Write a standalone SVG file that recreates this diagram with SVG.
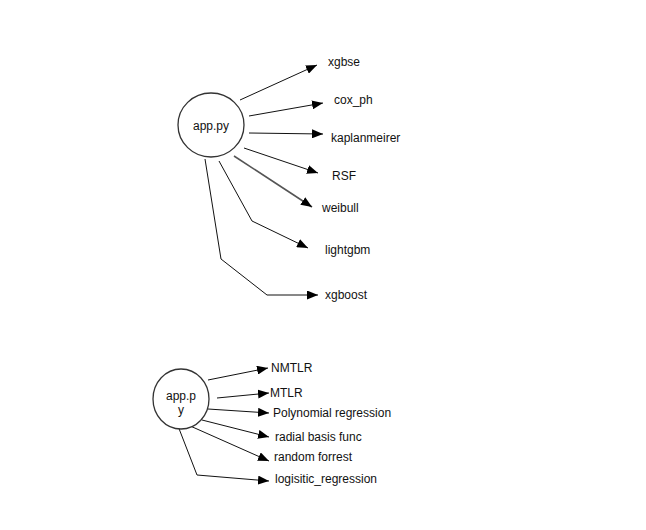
<svg xmlns="http://www.w3.org/2000/svg" width="646" height="530" viewBox="0 0 646 530">
<style>
.n{fill:#fff;stroke:#333;stroke-width:1.3}
.t{font-family:"Liberation Sans",Arial,sans-serif;font-size:12px;fill:#111}
.c{fill:none;stroke:#111;stroke-width:1;marker-end:url(#a)}
</style>
<defs>
<marker id="a" viewBox="0 0 11 9" refX="11" refY="4.5" markerWidth="11" markerHeight="9" markerUnits="userSpaceOnUse" orient="auto">
<path d="M0,0L11,4.5L0,9z" fill="#000"/>
</marker>
</defs>
<rect width="646" height="530" fill="#fff"/>
<g id="connectors">
<path class="c" d="M240,100L317,65"/>
<path class="c" d="M249,116L323,103"/>
<path class="c" d="M249,133L323,134"/>
<path class="c" d="M244,148L318,173"/>
<path class="c" d="M234,156L312,207" style="stroke:#555;stroke-width:1.6"/>
<path class="c" d="M219,161L252,221L308,248"/>
<path class="c" d="M205,159L221,259L267,295L318,295"/>
<path class="c" d="M208,380L268,368"/>
<path class="c" d="M217,398L269,393"/>
<path class="c" d="M208,409L269,413"/>
<path class="c" d="M202,420L269,437"/>
<path class="c" d="M188,425L269,461"/>
<path class="c" d="M178,426L197,475L269,481"/>
</g>
<g id="app1">
<ellipse class="n" cx="211" cy="125" rx="33" ry="32"/>
<text class="t" x="211" y="130" text-anchor="middle">app.py</text>
</g>
<g id="app2">
<ellipse class="n" cx="181" cy="399" rx="28" ry="30"/>
<text class="t" x="181" y="400" text-anchor="middle">app.p</text>
<text class="t" x="181" y="414" text-anchor="middle">y</text>
</g>
<g id="xgbse"><text class="t" x="328" y="66">xgbse</text></g>
<g id="coxph"><text class="t" x="334" y="104">cox_ph</text></g>
<g id="kaplan"><text class="t" x="331" y="142">kaplanmeirer</text></g>
<g id="rsf"><text class="t" x="332" y="180">RSF</text></g>
<g id="weibull"><text class="t" x="322" y="212">weibull</text></g>
<g id="lightgbm"><text class="t" x="325" y="254">lightgbm</text></g>
<g id="xgboost"><text class="t" x="325" y="299">xgboost</text></g>
<g id="nmtlr"><text class="t" x="271" y="372">NMTLR</text></g>
<g id="mtlr"><text class="t" x="270" y="397">MTLR</text></g>
<g id="poly"><text class="t" x="273" y="417">Polynomial regression</text></g>
<g id="rbf"><text class="t" x="275" y="441">radial basis func</text></g>
<g id="rf"><text class="t" x="274" y="461">random forrest</text></g>
<g id="logreg"><text class="t" x="275" y="483">logisitic_regression</text></g>
</svg>
